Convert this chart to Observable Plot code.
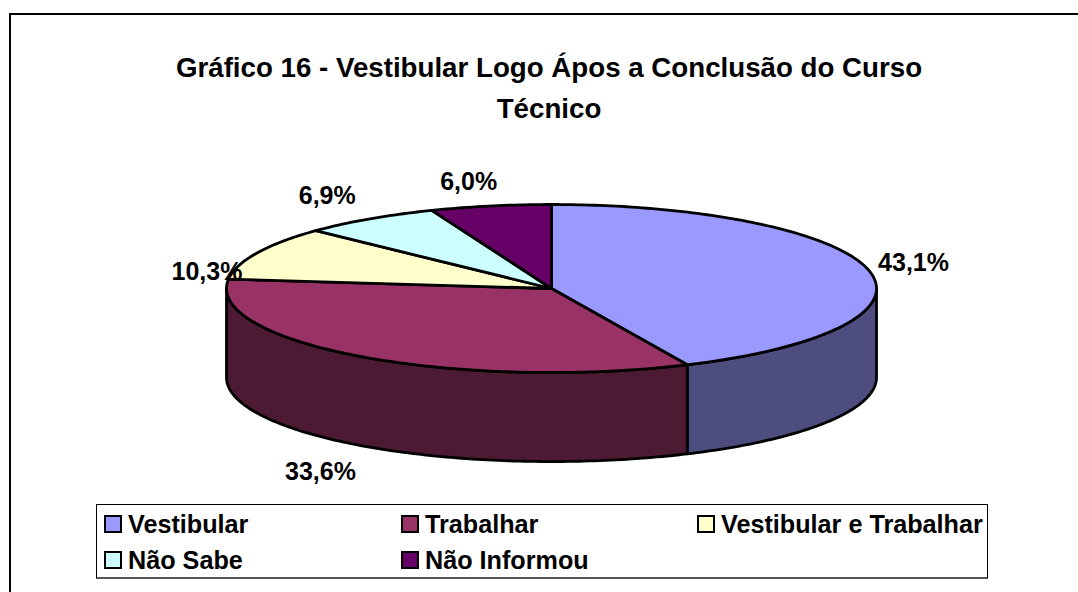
<!DOCTYPE html>
<html><head><meta charset="utf-8">
<script src="https://cdn.jsdelivr.net/npm/d3@7"></script>
<script src="https://cdn.jsdelivr.net/npm/@observablehq/plot@0.6"></script>
<style>
html,body{margin:0;padding:0;background:#fff;}
#wrap{position:relative;width:1078px;height:592px;overflow:hidden;font-family:"Liberation Sans",Arial,sans-serif;font-weight:bold;color:#000;}
#frameT{position:absolute;left:9px;top:13px;width:1069px;height:2px;background:#000;}
#frameL{position:absolute;left:9px;top:13px;width:2px;height:579px;background:#000;}
#title{position:absolute;left:0;top:47px;width:1098px;text-align:center;font-size:27.7px;line-height:41px;}
#chart{position:absolute;left:0;top:0;}
#legend{position:absolute;left:96px;top:504px;width:892px;height:75px;box-sizing:border-box;border:1px solid #000;border-bottom:2px solid #555;background:#fff;font-size:25.2px;}
.it{position:absolute;display:flex;align-items:center;white-space:nowrap;height:30px;}
.sw{width:14px;height:14px;border:2.5px solid #000;margin-right:6px;flex:none;}
</style></head><body>
<div id="wrap">
<div id="frameT"></div><div id="frameL"></div>
<div id="title">Gráfico 16 - Vestibular Logo Ápos a Conclusão do Curso<br>Técnico</div>
<div id="chart"></div>
<div id="legend"></div>
</div>
<script>
const categories = ["Vestibular","Trabalhar","Vestibular e Trabalhar","Não Sabe","Não Informou"];
const values = [43.1,33.6,10.3,6.9,6.0];
const labels = ["43,1%","33,6%","10,3%","6,9%","6,0%"];
const topColors = ["#9999ff","#993366","#ffffcc","#ccffff","#660066"];
const sideColors = ["#4d4d80","#4d1a33","#808066","#668080","#330033"];

// layout (pie units; not data)
const depth = 1.06;
const labelAt = [[1.114,-0.30],[-0.711,2.19],[-1.06,-0.20],[-0.69,-1.10],[-0.255,-1.27]];
const legendAt = [[7,4],[304,4],[600,4],[7,40],[304,40]];

const total = d3.sum(values);
let acc = 0;
const arcs = values.map((v,i)=>{const a0=acc/total*2*Math.PI; acc+=v; return {i,a0,a1:acc/total*2*Math.PI};});
const px = a => Math.sin(a), py = a => -Math.cos(a);
const steps = (a0,a1) => {const n=Math.max(2,Math.ceil((a1-a0)*60)); return d3.range(n+1).map(k=>a0+(a1-a0)*k/n);};

const tops = arcs.flatMap(({i,a0,a1})=>[
  {z:"t"+i,x:0,y:0,c:topColors[i]},
  ...steps(a0,a1).map(a=>({z:"t"+i,x:px(a),y:py(a),c:topColors[i]}))
]);
const sides = arcs.flatMap(({i,a0,a1})=>{
  const s=Math.max(a0,Math.PI/2), e=Math.min(a1,3*Math.PI/2);
  if(e<=s) return [];
  const st=steps(s,e);
  return [...st.map(a=>({z:"s"+i,x:px(a),y:py(a),c:sideColors[i]})),
          ...st.slice().reverse().map(a=>({z:"s"+i,x:px(a),y:py(a)+depth,c:sideColors[i]}))];
});
const labelRows = labels.map((t,i)=>({t,x:labelAt[i][0],y:labelAt[i][1]}));

const plot = Plot.plot({
  width:1078,height:592,margin:0,
  style:{background:"transparent"},
  x:{domain:[-1,1],range:[226,876],axis:null},
  y:{domain:[-1,1],range:[204,372],axis:null},
  color:{type:"identity"},
  marks:[
    Plot.line(sides,{x:"x",y:"y",z:"z",fill:"c",stroke:"#000",strokeWidth:2.8,curve:"linear-closed",strokeLinejoin:"round"}),
    Plot.line(tops,{x:"x",y:"y",z:"z",fill:"c",stroke:"#000",strokeWidth:2.8,curve:"linear-closed",strokeLinejoin:"round"}),
    Plot.text(labelRows,{x:"x",y:"y",text:"t",fontSize:25,fontWeight:"bold",fontFamily:"Liberation Sans",fill:"#000"})
  ]
});
document.getElementById("chart").appendChild(plot);

const lg = document.getElementById("legend");
categories.forEach((c,i)=>{
  const d=document.createElement("div");d.className="it";
  d.style.left=legendAt[i][0]+"px";d.style.top=legendAt[i][1]+"px";
  d.innerHTML=`<span class="sw" style="background:${topColors[i]}"></span><span>${c}</span>`;
  lg.appendChild(d);
});
</script>
</body></html>
